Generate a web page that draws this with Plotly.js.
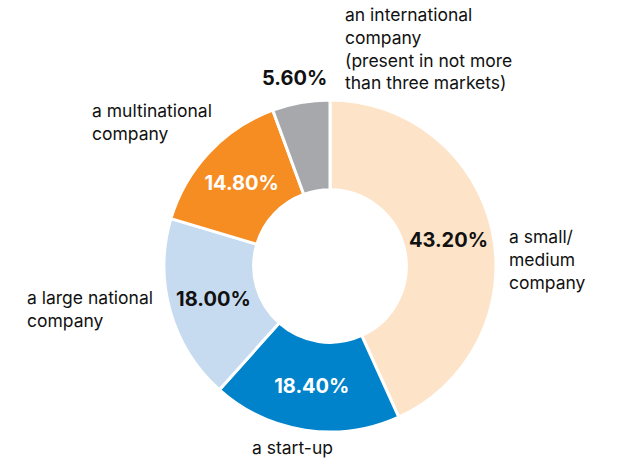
<!DOCTYPE html>
<html>
<head>
<meta charset="utf-8">
<script src="https://cdn.plot.ly/plotly-3.0.1.min.js"></script>
<style>
  html, body { margin: 0; padding: 0; background: #fff; }
  #myChart { width: 618px; height: 461px; }
</style>
</head>
<body>
<div id="myChart"></div>
<script>
const categories = [
	'a small/<br>medium<br>company',
	'a start-up',
	'a large national<br>company',
	'a multinational<br>company',
	'an international<br>company<br>(present in not more<br>than three markets)'
];
const shares = [43.2, 18.4, 18.0, 14.8, 5.6];
const pctLabels = ['43.20%', '18.40%', '18.00%', '14.80%', '5.60%'];
const colors = ['#FDE4C9', '#0083CB', '#C7DBF0', '#F68D22', '#A7A8AB'];
const textColors = ['#111', '#fff', '#111', '#fff', '#111'];

// where the category names sit (pixels: left edge, vertical middle)
const labelSpots = [[507, 259], [250, 447], [25, 309], [90, 122], [343, 48]];

const W = 618, H = 461;
const cx = 330, cy = 266, r = 166;
const FONT = 'Inter, sans-serif';

const trace = {
	type: 'pie',
	values: shares,
	labels: categories,
	// the small grey slice gets its number outside, as an annotation
	text: pctLabels.map((t, i) => i === 4 ? '' : t),
	textinfo: 'text',
	textposition: 'inside',
	insidetextorientation: 'horizontal',
	textfont: { family: FONT, size: 20, color: textColors, weight: 'bold' },
	marker: { colors: colors, line: { color: '#fff', width: 3 } },
	hole: 0.46,
	sort: false,
	direction: 'clockwise',
	rotation: 0,
	domain: {
		x: [(cx - r) / W, (cx + r) / W],
		y: [1 - (cy + r) / H, 1 - (cy - r) / H]
	},
	showlegend: false,
	hoverinfo: 'label+text'
};

const annotations = categories.map((c, i) => ({
	text: c,
	x: labelSpots[i][0] / W,
	y: 1 - labelSpots[i][1] / H,
	xref: 'paper', yref: 'paper',
	xanchor: 'left', yanchor: 'middle',
	align: 'left',
	showarrow: false,
	font: { family: FONT, size: 17.5, color: '#111' }
}));

annotations.push({
	text: pctLabels[4],
	x: 329 / W,
	y: 1 - 78 / H,
	xref: 'paper', yref: 'paper',
	xanchor: 'right', yanchor: 'middle',
	showarrow: false,
	font: { family: FONT, size: 20, color: '#111', weight: 'bold' }
});

const layout = {
	width: W,
	height: H,
	margin: { l: 0, r: 0, t: 0, b: 0 },
	paper_bgcolor: '#fff',
	showlegend: false,
	annotations: annotations
};

Plotly.newPlot('myChart', [trace], layout, { displayModeBar: false });
</script>
</body>
</html>
